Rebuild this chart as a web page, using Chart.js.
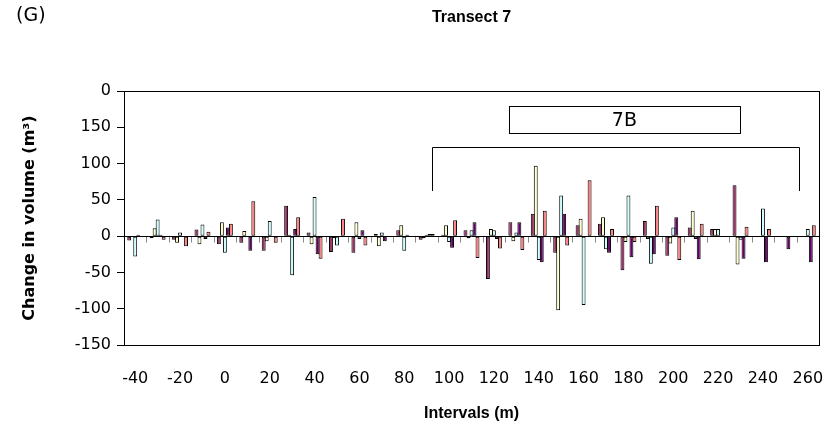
<!DOCTYPE html>
<html>
<head>
<meta charset="utf-8">
<script src="https://cdn.jsdelivr.net/npm/chart.js@4/dist/chart.umd.min.js"></script>
<style>
  html, body { margin: 0; padding: 0; background: #fff; }
  #wrap { width: 832px; height: 432px; }
</style>
</head>
<body>
<div id="wrap"><canvas id="chart" width="832" height="432"></canvas></div>
<script>
// intervals along the transect (m), one category every 10 m
const intervals = [-40, -30, -20, -10, 0, 10, 20, 30, 40, 50, 60, 70, 80, 90, 100,
  110, 120, 130, 140, 150, 160, 170, 180, 190, 200, 210, 220, 230, 240, 250, 260];

// change in volume (m3) per survey period
const period1 = [-6, -3, -5, 9, -11, -9, -20, 42, 5, -22, -23, 3, 8, -5, 2, 8,
  -59, 19, 31, -23, 15, 17, -47, 21, -27, 12, 10, 70, null, null, null];
const period2 = [null, 11, -9, -11, 19, 7, -7, 2, -11, -3, 19, -14, 15, -3, 15, -3,
  10, -7, 97, -102, 24, 26, -8, -4, -10, 35, 10, -39, null, null, null];
const period3 = [-28, 23, 5, 16, -23, null, 21, -54, 54, -13, -4, 5, -20, 2, -8, 8,
  8, 5, -33, 56, -95, -18, 56, -38, 12, -4, 10, -5, 38, null, 10];
const period4 = [2, 2, null, -4, 12, -20, null, 10, -25, null, 8, -7, 2, 3, -16, 19,
  -4, 19, -36, 31, null, -23, -29, -25, 26, -32, null, -31, -36, -18, -36];
const period5 = [null, -5, -14, 6, 17, 48, -9, 26, -31, 24, -13, null, null, 3, 22, -30,
  -17, -19, 35, -13, 77, 10, -8, 42, -33, 17, null, 13, 10, null, 15];

const yTicks = { min: -150, max: 200, step: 50 };

// annotation: 7B box and bracket, in metres / m3
const bracket = { from: 92.4, to: 256, top: 123.5, foot: 62 };
const box = { from: 126.7, to: 229.8, top: 179, bottom: 142, label: '7B', labelAt: 178.2 };

Chart.defaults.font.family = 'DejaVu Sans';
Chart.defaults.color = '#000';

function series(label, data, color) {
  return {
    label, data,
    backgroundColor: color,
    borderColor: '#000',
    borderWidth: 1,
    borderSkipped: false,
    categoryPercentage: 0.67,
    barPercentage: 1.3
  };
}

const decor = {
  id: 'decor',
  afterDatasetsDraw(chart) {
    const { ctx, chartArea: a, scales: { x, y } } = chart;
    const xm = m => x.getPixelForValue((m - intervals[0]) / 10);
    const y0 = Math.round(y.getPixelForValue(0)) + 0.5;
    ctx.save();
    ctx.lineWidth = 1;

    // category ticks hanging under the zero line
    ctx.strokeStyle = '#888';
    ctx.beginPath();
    for (let i = 1; i < intervals.length; i++) {
      const px = Math.round((x.getPixelForValue(i - 1) + x.getPixelForValue(i)) / 2) + 0.5;
      ctx.moveTo(px, y0);
      ctx.lineTo(px, y0 + 6);
    }
    ctx.stroke();

    ctx.strokeStyle = '#000';
    ctx.beginPath();
    ctx.moveTo(a.left, y0);
    ctx.lineTo(a.right, y0);
    ctx.stroke();

    // plot frame
    ctx.strokeRect(Math.round(a.left) + 0.5, Math.round(a.top) + 0.5,
      Math.round(a.right - a.left), Math.round(a.bottom - a.top));

    // bracket
    const bl = Math.round(xm(bracket.from)) + 0.5, br = Math.round(xm(bracket.to)) + 0.5;
    const bt = Math.round(y.getPixelForValue(bracket.top)) + 0.5;
    const bf = Math.round(y.getPixelForValue(bracket.foot));
    ctx.beginPath();
    ctx.moveTo(bl, bf); ctx.lineTo(bl, bt); ctx.lineTo(br, bt); ctx.lineTo(br, bf);
    ctx.stroke();

    // 7B box
    const x1 = Math.round(xm(box.from)) + 0.5, x2 = Math.round(xm(box.to)) + 0.5;
    const y1 = Math.round(y.getPixelForValue(box.top)) + 0.5;
    const y2 = Math.round(y.getPixelForValue(box.bottom)) + 0.5;
    ctx.fillStyle = '#fff';
    ctx.fillRect(x1, y1, x2 - x1, y2 - y1);
    ctx.strokeRect(x1, y1, x2 - x1, y2 - y1);
    ctx.fillStyle = '#000';
    ctx.font = '19px "DejaVu Sans"';
    ctx.textAlign = 'center';
    ctx.textBaseline = 'middle';
    ctx.fillText(box.label, xm(box.labelAt), (y1 + y2) / 2 + 1);

    // titles
    ctx.font = 'bold 16px "Liberation Sans"';
    ctx.fillText('Transect 7', (a.left + a.right) / 2, 18);
    ctx.font = '19px "DejaVu Sans"';
    ctx.textAlign = 'left';
    ctx.fillText('(G)', 16, 16);
    ctx.restore();
  }
};

new Chart(document.getElementById('chart'), {
  type: 'bar',
  data: {
    labels: intervals,
    datasets: [
      series('Period 1', period1, '#993366'),
      series('Period 2', period2, '#FFFFCC'),
      series('Period 3', period3, '#CCFFFF'),
      series('Period 4', period4, '#660066'),
      series('Period 5', period5, '#FF8080')
    ]
  },
  options: {
    responsive: false,
    animation: false,
    devicePixelRatio: 1,
    events: [],
    layout: { padding: { left: 0, top: 91, right: 13, bottom: 0 } },
    plugins: {
      legend: { display: false },
      tooltip: { enabled: false }
    },
    scales: {
      x: {
        grid: { display: false, drawTicks: false },
        border: { display: false },
        ticks: {
          autoSkip: false,
          maxRotation: 0,
          padding: 24,
          font: { size: 16 },
          callback: (v, i) => (i % 2 === 0 ? String(intervals[i]) : '')
        },
        title: {
          display: true,
          text: 'Intervals (m)',
          font: { family: 'Liberation Sans', size: 16, weight: 'bold' },
          padding: { top: 0, bottom: 9 }
        },
        afterFit: s => { s.height = 87; s.paddingLeft = 0; s.paddingRight = 0; }
      },
      y: {
        min: yTicks.min,
        max: yTicks.max,
        grid: { drawOnChartArea: false, drawTicks: true, tickLength: 7, color: '#000' },
        border: { display: false },
        ticks: {
          stepSize: yTicks.step,
          padding: 6,
          font: { size: 16 },
          // the top label is cut down to "0" in the original figure
          callback: v => (v === yTicks.max ? '0' : String(v))
        },
        title: {
          display: true,
          text: 'Change in volume (m³)',
          font: { size: 16, weight: 'bold' },
          padding: { top: 20, bottom: 0 }
        },
        afterFit: s => { s.width = 124; }
      }
    }
  },
  plugins: [decor]
});
</script>
</body>
</html>
